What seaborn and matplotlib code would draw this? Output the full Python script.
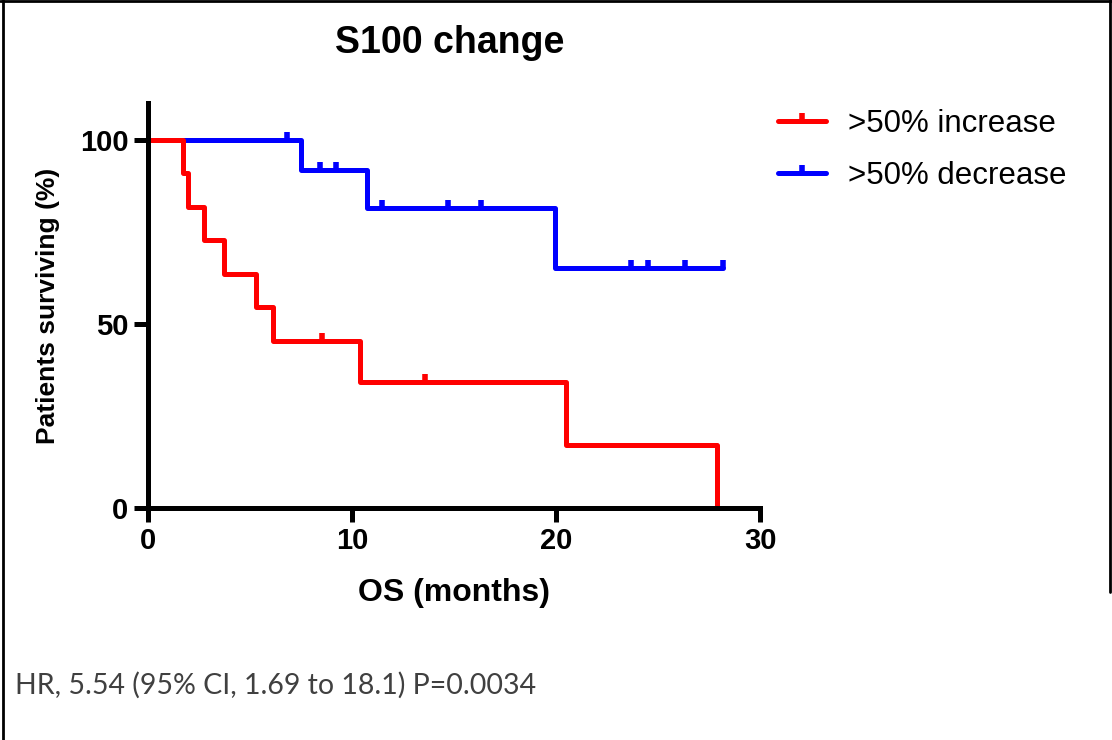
import numpy as np
import pandas as pd
import matplotlib
matplotlib.use('Agg')
import matplotlib.pyplot as plt
from matplotlib.path import Path
from matplotlib.lines import Line2D
import seaborn as sns

# Kaplan-Meier steps (months, % surviving)
inc_time = [0, 1.71, 1.98, 2.73, 3.72, 5.29, 6.12, 10.41, 20.5, 27.9]
inc_surv = [100, 90.91, 81.82, 72.73, 63.64, 54.55, 45.45, 34.09, 17.05, 0]
inc_cens_time = [8.51, 13.6]
inc_cens_surv = [45.45, 34.09]

dec_time = [0, 7.52, 10.72, 19.93, 28.2]
dec_surv = [100, 91.67, 81.48, 65.19, 65.19]
dec_cens_time = [6.79, 8.41, 9.21, 11.49, 14.69, 16.33, 23.68, 24.5, 26.3, 28.2]
dec_cens_surv = [100, 91.67, 91.67, 81.48, 81.48, 81.48, 65.19, 65.19, 65.19, 65.19]

groups = ['>50% increase', '>50% decrease']
colors = {'>50% increase': '#ff0000', '>50% decrease': '#0000ff'}
x_ticks = [0, 10, 20, 30]
y_ticks = [0, 50, 100]

inc_df = pd.DataFrame({'time': inc_time, 'surv': inc_surv})
dec_df = pd.DataFrame({'time': dec_time, 'surv': dec_surv})

sns.set_style('ticks')
plt.rcParams['font.family'] = ['Liberation Sans', 'DejaVu Sans']
plt.rcParams['text.color'] = 'black'
plt.rcParams['axes.labelcolor'] = 'black'
plt.rcParams['xtick.color'] = 'black'
plt.rcParams['ytick.color'] = 'black'

fig = plt.figure(figsize=(11.12, 7.4), dpi=100)
ax = fig.add_axes([0.1331, 0.3135, 0.5504, 0.5473])

lw = 3.6
# censor mark: short upward tick
tick_mark = Path([(0, 0), (0, 1)])

sns.lineplot(data=dec_df, x='time', y='surv', ax=ax, color=colors[groups[1]],
             drawstyle='steps-post', estimator=None, sort=False, lw=lw,
             legend=False)
ax.plot(dec_cens_time, dec_cens_surv, linestyle='none', marker=tick_mark,
        markersize=12, mew=4, color=colors[groups[1]])

sns.lineplot(data=inc_df, x='time', y='surv', ax=ax, color=colors[groups[0]],
             drawstyle='steps-post', estimator=None, sort=False, lw=lw,
             legend=False, solid_capstyle='round')
ax.plot(inc_cens_time, inc_cens_surv, linestyle='none', marker=tick_mark,
        markersize=12, mew=4, color=colors[groups[0]])

ax.set_xlim(0, 30)
ax.set_ylim(0, 110)
ax.set_xticks(x_ticks)
ax.set_yticks(y_ticks)
sns.despine(ax=ax)
for side in ['left', 'bottom']:
    ax.spines[side].set_linewidth(lw)
    ax.spines[side].set_color('black')
ax.tick_params(width=lw, length=10, color='black', labelcolor='black',
               labelsize=21, pad=4)
for lab in ax.get_xticklabels() + ax.get_yticklabels():
    lab.set_fontweight('bold')

ax.set_xlabel('OS (months)', fontsize=23, fontweight='bold', labelpad=16)
ax.set_ylabel('Patients surviving (%)', fontsize=19, fontweight='bold', labelpad=14)
ax.set_title('S100 change', fontsize=27, fontweight='bold', x=0.493, y=1.0,
             pad=36, color='black')

handles = [Line2D([], [], color=colors[g], lw=lw, marker=tick_mark,
                  markersize=12, mew=4, solid_capstyle='round') for g in groups]
fig.legend(handles, groups, loc='upper left', bbox_to_anchor=(0.688, 0.870),
           frameon=False, fontsize=22.5, handlelength=1.55, handletextpad=0.7,
           labelspacing=0.72, borderaxespad=0, labelcolor='black')

fig.text(0.0135, 0.074, 'HR, 5.54 (95% CI, 1.69 to 18.1) P=0.0034',
         fontsize=20.5, color='#404040', family=['Lato', 'DejaVu Sans'],
         va='center', ha='left')

# outer frame
fig.add_artist(Line2D([0.003, 0.003], [0, 1], transform=fig.transFigure,
                      color='black', lw=2))
fig.add_artist(Line2D([0, 1], [0.999, 0.999], transform=fig.transFigure,
                      color='black', lw=2))
fig.add_artist(Line2D([0.998, 0.998], [0.2, 1], transform=fig.transFigure,
                      color='black', lw=2))

fig.savefig('out.png', dpi=100, facecolor='white')
